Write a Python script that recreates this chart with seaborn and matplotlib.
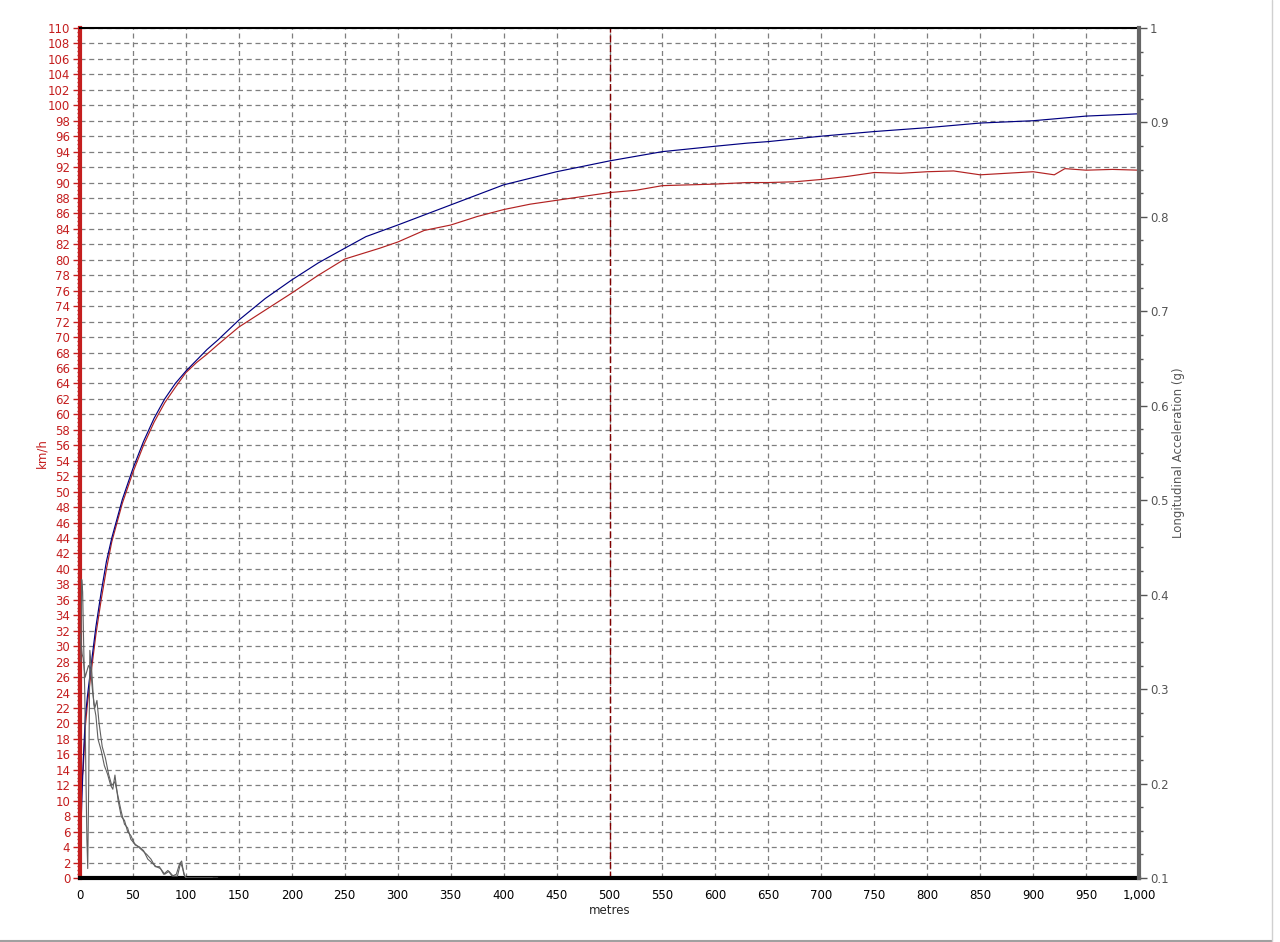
import numpy as np
import pandas as pd
import matplotlib
matplotlib.use("Agg")
import matplotlib.pyplot as plt
import seaborn as sns
from matplotlib.ticker import MultipleLocator, FuncFormatter
from matplotlib.lines import Line2D

# run A (blue) - speed vs distance
blue_dist = [1, 3, 5, 7, 10, 15, 20, 25, 30, 40, 50, 60, 70, 80, 90, 100, 110, 120, 130, 150, 175,
             200, 225, 250, 270, 300, 350, 400, 450, 500, 550, 600, 630, 650, 700, 750, 800,
             850, 900, 950, 1000]
blue_kmh = [7, 15, 20.8, 23.5, 27, 32.5, 37, 41, 44, 49, 53, 56.5, 59.5, 62, 64, 65.6, 67.0, 68.4,
            69.6, 72.2, 75, 77.4, 79.6, 81.5, 83.0, 84.5, 87.1, 89.7, 91.4, 92.8, 94.0, 94.7,
            95.1, 95.3, 96.0, 96.6, 97.1, 97.7, 98.0, 98.6, 98.9]

# run B (red) - speed vs distance
red_dist = [1, 2, 3, 5, 7, 10, 15, 20, 25, 30, 40, 50, 60, 70, 80, 90, 100, 110, 120, 130, 150,
            175, 200, 225, 250, 283, 300, 325, 350, 375, 400, 425, 450, 475, 500, 525, 550,
            575, 600, 630, 650, 675, 700, 725, 750, 775, 800, 825, 850, 875, 900, 920, 930,
            950, 975, 1000]
red_kmh = [11, 13, 14, 19.5, 22.5, 26, 31.5, 36, 40, 43.5, 48.5, 52.5, 56, 59, 61.5, 63.5, 65.4,
           66.7, 67.8, 69.0, 71.3, 73.5, 75.7, 78.0, 80.1, 81.5, 82.3, 83.8, 84.5, 85.6, 86.5,
           87.2, 87.7, 88.2, 88.7, 89.0, 89.6, 89.7, 89.8, 90.0, 90.0, 90.1, 90.4, 90.8, 91.3,
           91.2, 91.4, 91.5, 91.0, 91.2, 91.4, 91.0, 91.8, 91.6, 91.7, 91.6]

# longitudinal acceleration (g), two runs
acc1_dist = [0.8, 1.6, 2.5, 3.5, 4.5, 5.5, 6.5, 7.3, 8.2, 9.3, 11, 13, 15, 17, 20, 23, 26, 29,
             31, 33, 36, 39, 42, 45, 48, 52, 56, 60, 64, 68, 72, 76, 80, 84, 88, 92, 95, 97,
             99, 101, 110, 125]
acc1_g = [0.329, 0.416, 0.403, 0.345, 0.296, 0.215, 0.141, 0.110, 0.198, 0.341, 0.321, 0.284,
          0.272, 0.247, 0.235, 0.219, 0.210, 0.198, 0.194, 0.209, 0.182, 0.165, 0.161, 0.149,
          0.145, 0.135, 0.133, 0.129, 0.120, 0.116, 0.112, 0.110, 0.104, 0.107, 0.102, 0.102,
          0.116, 0.110, 0.102, 0.100, 0.100, 0.100]
acc2_dist = [0, 1, 2, 3, 4, 5, 6, 8, 10, 12, 14, 16, 18, 21, 24, 27, 30, 33, 36, 39, 42, 45, 48,
             51, 55, 59, 63, 67, 71, 75, 79, 83, 87, 91, 94, 96, 98, 100, 104, 130]
acc2_g = [0.359, 0.350, 0.337, 0.333, 0.321, 0.313, 0.317, 0.325, 0.321, 0.296, 0.280, 0.288,
          0.264, 0.239, 0.227, 0.210, 0.198, 0.202, 0.186, 0.170, 0.157, 0.153, 0.141, 0.137,
          0.133, 0.129, 0.125, 0.120, 0.112, 0.112, 0.104, 0.108, 0.102, 0.104, 0.115, 0.118,
          0.104, 0.100, 0.100, 0.100]

red = "#c41e1e"
grid_col = "#7f7f7f"
font = ["DejaVu Sans"]

sns.set_style("white")
plt.rcParams["font.family"] = font
plt.rcParams["font.size"] = 8.5

fig = plt.figure(figsize=(12.8, 9.42), dpi=100)
ax = fig.add_axes([80 / 1280, 1 - 878 / 942, (1139 - 80) / 1280, 850 / 942])
ax2 = ax.twinx()

speed_a = pd.DataFrame({"metres": blue_dist, "kmh": blue_kmh})
speed_b = pd.DataFrame({"metres": red_dist, "kmh": red_kmh})
acc_a = pd.DataFrame({"metres": acc1_dist, "g": acc1_g})
acc_b = pd.DataFrame({"metres": acc2_dist, "g": acc2_g})

sns.lineplot(data=speed_b, x="metres", y="kmh", ax=ax, color="#b22222", lw=0.85, sort=False)
sns.lineplot(data=speed_a, x="metres", y="kmh", ax=ax, color="#000080", lw=0.85, sort=False)
sns.lineplot(data=acc_a, x="metres", y="g", ax=ax2, color="#606060", lw=0.8, sort=False)
sns.lineplot(data=acc_b, x="metres", y="g", ax=ax2, color="#606060", lw=0.8, sort=False)

# limits
ax.set_xlim(0, 1000)
ax.set_ylim(0, 110)
ax2.set_ylim(0.1, 1)

# grid + marker line at 500 m
ax.grid(True, color=grid_col, linestyle=(0, (4, 3)), linewidth=0.9)
ax.axvline(500, color="#800000", linestyle=(0, (5, 2)), linewidth=1)

# left axis (km/h)
ax.yaxis.set_major_locator(MultipleLocator(2))
ax.yaxis.set_minor_locator(MultipleLocator(0.5))
ax.tick_params(axis="y", which="major", colors=red, length=5, width=1, pad=2, labelsize=8.5)
ax.tick_params(axis="y", which="minor", colors=red, length=2, width=1)
ax.set_ylabel("km/h", color=red, fontsize=8.5, labelpad=0)

# x axis
ax.xaxis.set_major_locator(MultipleLocator(50))
ax.xaxis.set_minor_locator(MultipleLocator(12.5))
ax.xaxis.set_major_formatter(FuncFormatter(lambda v, p: f"{v:,.0f}"))
ax.tick_params(axis="x", which="major", length=5, width=1, pad=3, labelsize=8.5, colors="black")
ax.tick_params(axis="x", which="minor", length=2, width=1, colors="black")
ax.set_xlabel("metres", fontsize=8.5, labelpad=1)

# right axis (g)
ax2.yaxis.set_major_locator(MultipleLocator(0.1))
ax2.yaxis.set_minor_locator(MultipleLocator(0.025))
ax2.yaxis.set_major_formatter(FuncFormatter(lambda v, p: f"{v:g}"))
ax2.tick_params(axis="y", which="major", colors="#555555", length=6, width=1, pad=2, labelsize=8.5)
ax2.tick_params(axis="y", which="minor", colors="#555555", length=3, width=1)
ax2.set_ylabel("Longitudinal Acceleration (g)", color="#555555", fontsize=8.5, labelpad=2)

# spines
for s in ax.spines.values():
    s.set_visible(True)
ax.spines["left"].set_color(red)
ax.spines["left"].set_linewidth(3)
ax.spines["bottom"].set_color("black")
ax.spines["bottom"].set_linewidth(3)
ax.spines["top"].set_color("black")
ax.spines["top"].set_linewidth(1.5)
ax.spines["right"].set_visible(False)
ax2.spines["left"].set_visible(False)
ax2.spines["top"].set_visible(False)
ax2.spines["bottom"].set_visible(False)
ax2.spines["right"].set_visible(True)
ax2.spines["right"].set_color("#666666")
ax2.spines["right"].set_linewidth(3)
ax.set_zorder(1)
ax2.set_zorder(2)
ax2.patch.set_visible(False)

# window frame edge
fig.add_artist(Line2D([0, 1272 / 1280], [1.5 / 942, 1.5 / 942], transform=fig.transFigure,
                      color="#a0a0a0", lw=1.5))
fig.add_artist(Line2D([1272 / 1280, 1272 / 1280], [1.5 / 942, 1], transform=fig.transFigure,
                      color="#d0d0d0", lw=1))

fig.savefig("out.png", dpi=100)
